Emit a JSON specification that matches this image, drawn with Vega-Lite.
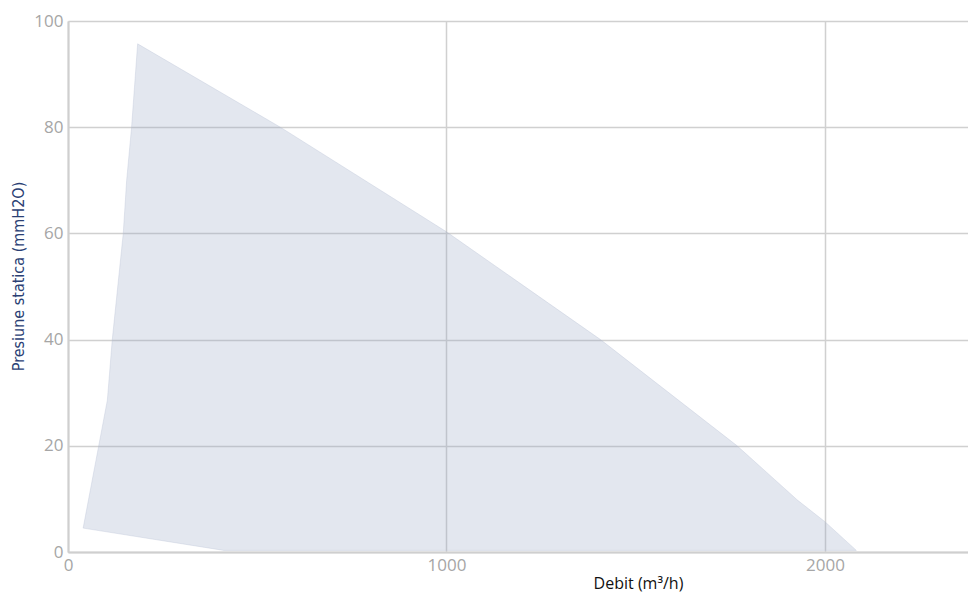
{
  "$schema": "https://vega.github.io/schema/vega-lite/v6.json",
  "width": 900,
  "height": 531,
  "autosize": {"type": "none"},
  "padding": {"left": 68, "top": 21, "right": 0, "bottom": 41},
  "background": "white",
  "config": {"view": {"stroke": null}},
  "data": {
    "values": [
      {"i": 1, "debit": 40, "presiune": 4.5},
      {"i": 2, "debit": 104, "presiune": 28.6},
      {"i": 3, "debit": 117, "presiune": 40},
      {"i": 4, "debit": 146, "presiune": 60},
      {"i": 5, "debit": 155, "presiune": 70},
      {"i": 6, "debit": 168, "presiune": 80},
      {"i": 7, "debit": 184, "presiune": 95.7},
      {"i": 8, "debit": 561, "presiune": 80},
      {"i": 9, "debit": 1000, "presiune": 60.3},
      {"i": 10, "debit": 1407, "presiune": 40},
      {"i": 11, "debit": 1768, "presiune": 20},
      {"i": 12, "debit": 1927, "presiune": 9.8},
      {"i": 13, "debit": 2000, "presiune": 5.7},
      {"i": 14, "debit": 2083, "presiune": 0.3},
      {"i": 15, "debit": 412, "presiune": 0.3},
      {"i": 16, "debit": 40, "presiune": 4.5}
    ]
  },
  "mark": {
    "type": "line",
    "fill": "#8f9fbf",
    "fillOpacity": 0.25,
    "stroke": "#b7c0d3",
    "strokeOpacity": 0.35,
    "strokeWidth": 1
  },
  "encoding": {
    "order": {"field": "i", "type": "quantitative"},
    "x": {
      "field": "debit",
      "type": "quantitative",
      "scale": {"domain": [0, 2378], "nice": false},
      "axis": {
        "title": "Debit (m³/h)",
        "values": [0, 1000, 2000],
        "format": "d",
        "grid": true,
        "gridColor": "#d0d0d0",
        "gridWidth": 1.5,
        "domainColor": "#cfcfcf",
        "domainWidth": 2,
        "ticks": false,
        "labelFont": "Open Sans",
        "labelFontSize": 17,
        "labelColor": "#a6a6a6",
        "labelPadding": 5,
        "labelFlush": false,
        "titleFont": "Open Sans",
        "titleFontSize": 16,
        "titleFontWeight": "normal",
        "titleColor": "#111111",
        "titleX": 570,
        "titleY": 31,
        "titleAlign": "center",
        "titleBaseline": "middle"
      }
    },
    "y": {
      "field": "presiune",
      "type": "quantitative",
      "scale": {"domain": [0, 100], "nice": false},
      "axis": {
        "title": "Presiune statica (mmH2O)",
        "values": [0, 20, 40, 60, 80, 100],
        "grid": true,
        "gridColor": "#d0d0d0",
        "gridWidth": 1.5,
        "domainColor": "#cfcfcf",
        "domainWidth": 2,
        "ticks": false,
        "labelFont": "Open Sans",
        "labelFontSize": 17,
        "labelColor": "#a6a6a6",
        "labelPadding": 5,
        "labelFlush": false,
        "titleFont": "DejaVu Sans Condensed",
        "titleFontSize": 16,
        "titleFontWeight": "normal",
        "titleColor": "#2b3f74",
        "titleX": -50,
        "titleY": 255,
        "titleAngle": -90,
        "titleAlign": "center",
        "titleBaseline": "middle"
      }
    }
  }
}
